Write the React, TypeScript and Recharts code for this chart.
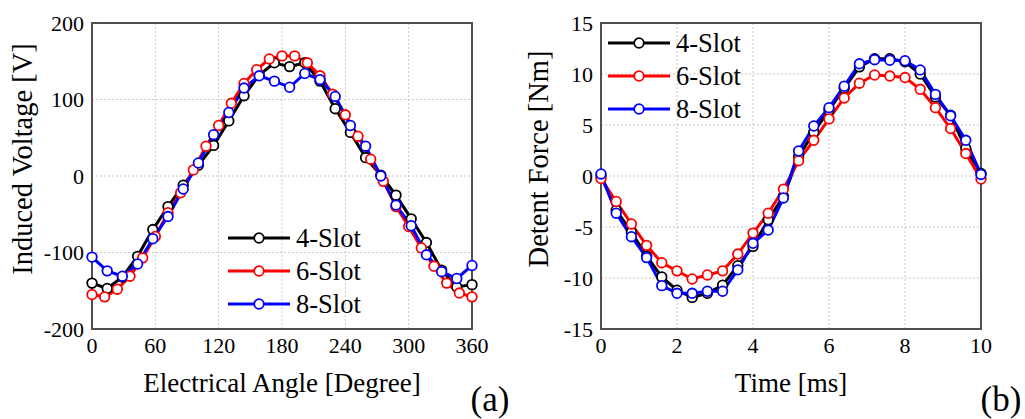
import { CartesianGrid, Line, LineChart, ReferenceArea, XAxis, YAxis } from "recharts"

const FONT = "Liberation Serif"
const GRID_COLOR = "#c8c8c8"
const FRAME_COLOR = "#505050"

// (a) induced voltage, electrical angle in degrees
const angle26 = [0, 14.4, 28.8, 43.2, 57.6, 72, 86.4, 100.8, 115.2, 129.6, 144, 158.4, 172.8, 187.2, 201.6, 216, 230.4, 244.8, 259.2, 273.6, 288, 302.4, 316.8, 331.2, 345.6, 360]
const angle31 = [0, 12, 24, 36, 48, 60, 72, 84, 96, 108, 120, 132, 144, 156, 168, 180, 192, 204, 216, 228, 240, 252, 264, 276, 288, 300, 312, 324, 336, 348, 360]
const voltage4 = [-140, -147, -132, -105, -70, -40, -12, 14, 40, 72, 105, 132, 148, 143, 148, 124, 88, 57, 24, 1, -25, -56, -87, -123, -145, -142]
const voltage6 = [-155, -158, -148, -131, -107, -79, -48, -22, 8, 39, 66, 95, 121, 139, 153, 157, 157, 148, 131, 107, 80, 52, 22, -7, -40, -66, -94, -118, -140, -153, -158]
const voltage8 = [-106, -124, -131, -115, -82, -53, -17, 17, 54, 83, 115, 131, 124, 116, 134, 126, 104, 66, 39, 0, -38, -65, -103, -125, -134, -117]
const angleTicks = [0, 60, 120, 180, 240, 300, 360]
const voltageTicks = [-200, -100, 0, 100, 200]

// (b) detent force, time in ms
const time = [0, 0.4, 0.8, 1.2, 1.6, 2, 2.4, 2.8, 3.2, 3.6, 4, 4.4, 4.8, 5.2, 5.6, 6, 6.4, 6.8, 7.2, 7.6, 8, 8.4, 8.8, 9.2, 9.6, 10]
const force4 = [0, -3.35, -5.5, -7.85, -9.9, -11.2, -11.9, -11.5, -10.7, -8.8, -6.9, -4.3, -2.0, 1.9, 4.3, 6.45, 8.6, 10.7, 11.5, 11.5, 11.2, 10.0, 7.75, 5.95, 2.7, 0.25]
const force6 = [-0.25, -2.5, -4.7, -6.8, -8.5, -9.3, -10.1, -9.7, -9.3, -7.65, -5.6, -3.65, -1.3, 1.5, 3.5, 5.6, 7.65, 9.1, 9.9, 9.8, 9.65, 8.5, 6.7, 4.65, 2.2, -0.3]
const force8 = [0.2, -3.65, -5.95, -8.0, -10.75, -11.5, -11.5, -11.3, -11.3, -9.2, -6.6, -5.3, -2.15, 2.45, 4.9, 6.7, 8.8, 11.0, 11.4, 11.35, 11.3, 10.4, 8.0, 5.9, 3.5, 0.15]
const timeTicks = [0, 2, 4, 6, 8, 10]
const forceTicks = [-15, -10, -5, 0, 5, 10, 15]

const seriesNames = ["4-Slot", "6-Slot", "8-Slot"]
const seriesColors = ["#000000", "#ff0000", "#0000ff"]

const toPoints = (xs: number[], ys: number[]) => xs.map((x, i) => ({ x, y: ys[i] }))

const tickStyle = { fontSize: 22, fill: "#000", fontFamily: FONT, style: { fontFamily: FONT } }

// drawn outside recharts' Legend so it does not shrink the plot
function LegendBox({ left, top }: { left: number; top: number }) {
	return (
		<div style={{ position: "absolute", left, top, fontFamily: FONT, fontSize: 26.5, color: "#000" }}>
			{seriesNames.map((name, i) => (
				<div key={name} style={{ display: "flex", alignItems: "center", height: 32.8 }}>
					<svg width={62} height={14} style={{ marginRight: 6 }}>
						<line x1={0} y1={7} x2={62} y2={7} stroke={seriesColors[i]} strokeWidth={3} />
						<circle cx={31} cy={7} r={4.8} fill="#fff" stroke={seriesColors[i]} strokeWidth={1.8} />
					</svg>
					<span style={{ lineHeight: 1 }}>{name}</span>
				</div>
			))}
		</div>
	)
}

function seriesLine(data: { x: number; y: number }[], i: number) {
	return (
		<Line
			key={seriesNames[i]}
			data={data}
			dataKey="y"
			name={seriesNames[i]}
			type="linear"
			stroke={seriesColors[i]}
			strokeWidth={3}
			dot={{ r: 4.8, fill: "#fff", stroke: seriesColors[i], strokeWidth: 1.8 }}
			isAnimationActive={false}
		/>
	)
}

function VoltageChart() {
	const series = [toPoints(angle26, voltage4), toPoints(angle31, voltage6), toPoints(angle26, voltage8)]
	return (
		<LineChart width={510} height={419} margin={{ top: 23, right: 38, bottom: 60, left: 0 }} style={{ fontFamily: FONT }}>
			<CartesianGrid stroke={GRID_COLOR} strokeDasharray="2 2" />
			<XAxis
				dataKey="x"
				type="number"
				domain={[0, 360]}
				ticks={angleTicks}
				tick={tickStyle}
				tickLine={false}
				axisLine={false}
				height={30}
				allowDuplicatedCategory={false}
			/>
			<YAxis type="number" domain={[-200, 200]} ticks={voltageTicks} tick={tickStyle} tickLine={false} axisLine={false} width={92} />
			<ReferenceArea x1={0} x2={360} y1={-200} y2={200} fill="none" stroke={FRAME_COLOR} strokeWidth={2} />
			{series.map((d, i) => seriesLine(d, i))}
		</LineChart>
	)
}

function ForceChart() {
	const series = [toPoints(time, force4), toPoints(time, force6), toPoints(time, force8)]
	return (
		<LineChart width={515} height={419} margin={{ top: 23, right: 44, bottom: 60, left: 0 }} style={{ fontFamily: FONT }}>
			<CartesianGrid stroke={GRID_COLOR} strokeDasharray="2 2" />
			<XAxis
				dataKey="x"
				type="number"
				domain={[0, 10]}
				ticks={timeTicks}
				tick={tickStyle}
				tickLine={false}
				axisLine={false}
				height={30}
				allowDuplicatedCategory={false}
			/>
			<YAxis type="number" domain={[-15, 15]} ticks={forceTicks} tick={tickStyle} tickLine={false} axisLine={false} width={91} />
			<ReferenceArea x1={0} x2={10} y1={-15} y2={15} fill="none" stroke={FRAME_COLOR} strokeWidth={2} />
			{series.map((d, i) => seriesLine(d, i))}
		</LineChart>
	)
}

export default function App() {
	return (
		<div style={{ position: "absolute", left: 0, top: 0, width: 1025, height: 419, background: "#fff", overflow: "hidden", fontFamily: FONT }}>
			<div style={{ position: "absolute", left: 0, top: 0 }}>
				<VoltageChart />
			</div>
			<div style={{ position: "absolute", left: 510, top: 0 }}>
				<ForceChart />
			</div>
			<LegendBox left={228} top={222} />
			<LegendBox left={608} top={27} />
			<svg width={1025} height={419} style={{ position: "absolute", left: 0, top: 0, pointerEvents: "none" }} fontFamily={FONT} fill="#000">
				<text x={282} y={392} fontSize={27} textAnchor="middle">Electrical Angle [Degree]</text>
				<text x={791} y={392} fontSize={27} textAnchor="middle">Time [ms]</text>
				<text x={32} y={159} fontSize={28.5} textAnchor="middle" transform="rotate(-90 32 159)">Induced Voltage [V]</text>
				<text x={548} y={159} fontSize={28.5} textAnchor="middle" transform="rotate(-90 548 159)">Detent Force [Nm]</text>
				<text x={490} y={411} fontSize={35} textAnchor="middle">(a)</text>
				<text x={1001} y={411} fontSize={35} textAnchor="middle">(b)</text>
			</svg>
		</div>
	)
}
